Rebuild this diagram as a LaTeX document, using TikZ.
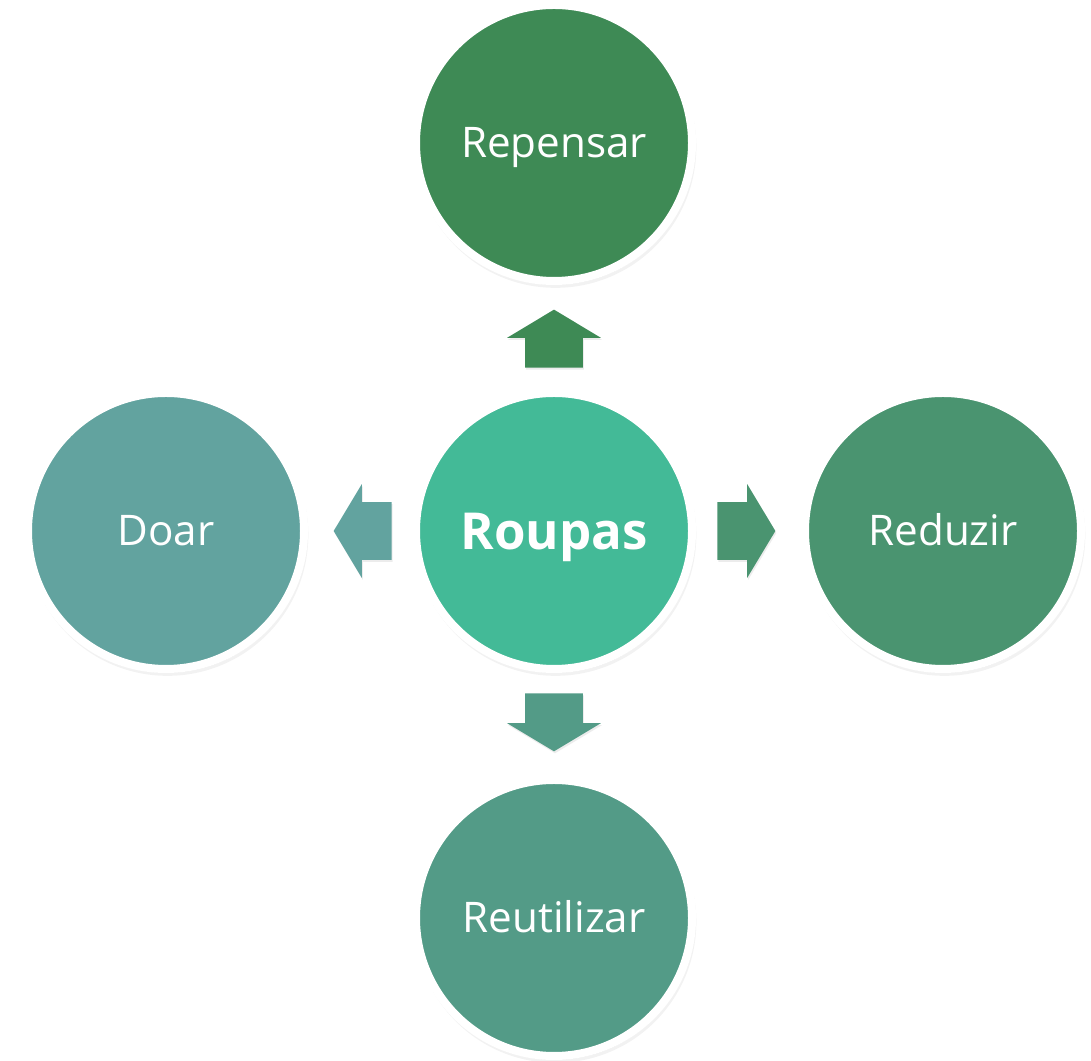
\documentclass[tikz,border=0pt]{standalone}
\usepackage{fontspec}
\setmainfont{Open Sans}
\usetikzlibrary{shapes.arrows,shadows}

\definecolor{repensarcol}{HTML}{3E8A55}
\definecolor{roupascol}{HTML}{43BA97}
\definecolor{reduzircol}{HTML}{4A9470}
\definecolor{reutilizarcol}{HTML}{539B87}
\definecolor{doarcol}{HTML}{62A39F}

\tikzset{
  softshadow/.style={
    general shadow={fill=black, opacity=0.05, shadow scale=1.02, shadow xshift=0.03cm, shadow yshift=-0.08cm},
    general shadow={fill=black, opacity=0.09, shadow scale=1.005, shadow xshift=0.02cm, shadow yshift=-0.06cm}},
  bubble/.style={circle, draw=white, line width=0.16cm, minimum size=5.52cm,
    inner sep=0pt, text=white, font=\fontsize{24}{29}\selectfont,
    text height=17pt, text depth=0pt, softshadow},
  blockarrow/.style={single arrow, draw=none, fill=#1, minimum height=1.16cm,
    inner xsep=0pt, inner ysep=0.57cm, single arrow head extend=0.36cm,
    single arrow tip angle=118, anchor=tail,
    drop shadow={opacity=0.15, shadow xshift=0.02cm, shadow yshift=-0.04cm}}
}

\begin{document}
\begin{tikzpicture}
    \useasboundingbox (0,0) rectangle (21.82,21.22);
    \node [bubble, fill=roupascol, font=\fontsize{29}{34}\selectfont\bfseries, text height=21pt] (roupas) at (11.08,10.6) {Roupas};
    \node [bubble, fill=repensarcol] (repensar) at (11.08,18.36) {Repensar};
    \node [bubble, fill=reduzircol] (reduzir) at (18.86,10.6) {Reduzir};
    \node [bubble, fill=reutilizarcol] (reutilizar) at (11.08,2.86) {Reutilizar};
    \node [bubble, fill=doarcol] (doar) at (3.32,10.6) {Doar};
    % arrows out of the centre
    \node [blockarrow=repensarcol, rotate=90] (up) at (11.08,13.86) {};
    \node [blockarrow=reduzircol] (right) at (14.34,10.6) {};
    \node [blockarrow=reutilizarcol, rotate=-90] (down) at (11.08,7.36) {};
    \node [blockarrow=doarcol, rotate=180] (left) at (7.84,10.6) {};
\end{tikzpicture}
\end{document}
